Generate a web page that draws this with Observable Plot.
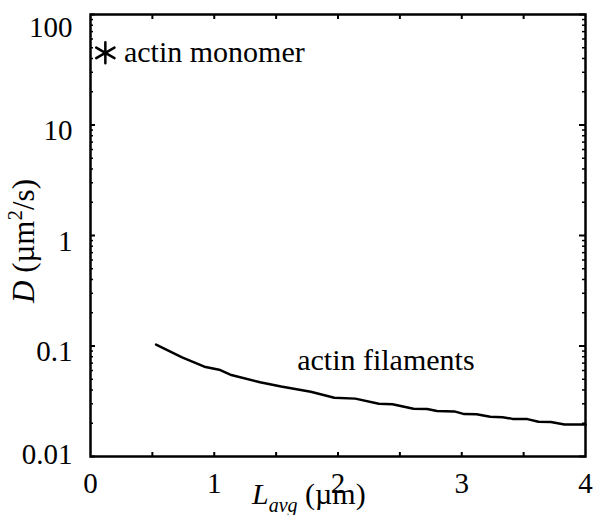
<!DOCTYPE html>
<html><head><meta charset="utf-8">
<script src="https://cdn.jsdelivr.net/npm/d3@7"></script>
<script src="https://cdn.jsdelivr.net/npm/@observablehq/plot@0.6"></script>
<style>body{margin:0;background:#fff} svg{display:block}</style>
</head><body><div id="chart"></div>
<script>
// Actin filaments: average length L (µm) vs diffusion coefficient D (µm²/s)
const filamentL = [0.53, 0.74, 0.92, 1.04, 1.13, 1.37, 1.54, 1.70, 1.78, 1.97, 2.14, 2.33, 2.44, 2.61, 2.72, 2.80, 2.94, 3.02, 3.12, 3.23, 3.33, 3.41, 3.53, 3.62, 3.72, 3.83, 4.00];
const filamentD = [0.103, 0.079, 0.065, 0.061, 0.055, 0.047, 0.043, 0.040, 0.0386, 0.034, 0.0334, 0.030, 0.0297, 0.027, 0.0269, 0.0258, 0.0256, 0.0242, 0.0241, 0.0229, 0.0227, 0.0219, 0.0218, 0.0206, 0.0205, 0.0195, 0.0195];
// Actin monomer
const monomerL = [0.12];
const monomerD = [45];
const labelTexts = ["actin monomer", "actin filaments"];
const labelL = [0.27, 1.67];
const labelD = [45, 0.074];
// Axes
const xTicks = [0, 1, 2, 3, 4];
const xSmallTicks = [0.5, 1, 1.5, 2, 2.5, 3, 3.5];
const yTicks = [0.01, 0.1, 1, 10, 100];
const yTickLabels = ["0.01", "0.1", "1", "10", "100"];
const yMinorTicks = [0.02,0.03,0.04,0.05,0.06,0.07,0.08,0.09,
                     0.2,0.3,0.4,0.5,0.6,0.7,0.8,0.9,
                     2,3,4,5,6,7,8,9,
                     20,30,40,50,60,70,80,90];

// pick an installed Times-like serif font
const ctx = document.createElement("canvas").getContext("2d");
function has(name) {
  const s = "actin monomer 0.01 µm";
  for (const fb of ["monospace", "sans-serif"]) {
    ctx.font = `72px ${fb}`; const w0 = ctx.measureText(s).width;
    ctx.font = `72px "${name}", ${fb}`; const w1 = ctx.measureText(s).width;
    if (Math.abs(w0 - w1) > 0.5) return true;
  }
  return false;
}
const candidates = ["Liberation Serif", "Times New Roman", "Tinos", "Nimbus Roman", "DejaVu Serif", "Noto Serif"];
const chosen = candidates.find(has) || "serif";
const isTimes = ["Liberation Serif", "Times New Roman", "Tinos", "Nimbus Roman"].includes(chosen);
const k = isTimes ? 1 : 0.84;
const font = `"${chosen}", serif`;
const tickFs = Math.round(29 * k), textFs = Math.round(30 * k);

const filaments = filamentL.map((L, i) => ({L, D: filamentD[i]}));
const monomer = monomerL.map((L, i) => ({L, D: monomerD[i]}));
const labels = labelTexts.map((t, i) => ({t, L: labelL[i], D: labelD[i]}));
const yFmt = d => yTickLabels[yTicks.indexOf(d)];

const chart = Plot.plot({
  width: 593, height: 515,
  marginLeft: 90, marginRight: 8, marginTop: 14, marginBottom: 59,
  style: `font-family: ${font}; font-size: ${tickFs}px; background: white; color: black; overflow: visible;`,
  x: {domain: [0, 4]},
  y: {type: "log", domain: [0.01, 100]},
  marks: [
    Plot.axisX(xSmallTicks, {anchor: "bottom", tickSize: -4, text: null, strokeWidth: 2, label: null}),
    Plot.axisX(xSmallTicks, {anchor: "top", tickSize: -4, text: null, strokeWidth: 2, label: null}),
    Plot.axisX(xTicks, {anchor: "bottom", tickSize: 0, tickPadding: 16, fontSize: tickFs, label: null, tickFormat: d => String(d)}),
    Plot.axisY(yTicks, {anchor: "left", tickSize: -5, text: null, strokeWidth: 2, label: null}),
    Plot.axisY(yMinorTicks, {anchor: "left", tickSize: -3, text: null, strokeWidth: 1.5, label: null}),
    Plot.axisY(yTicks, {anchor: "right", tickSize: -7, text: null, strokeWidth: 2, label: null}),
    Plot.axisY(yMinorTicks, {anchor: "right", tickSize: -4, text: null, strokeWidth: 1.5, label: null}),
    Plot.axisY(yTicks.slice(1, 4), {anchor: "left", tickSize: 0, tickPadding: 18, fontSize: tickFs, dy: 6, label: null, tickFormat: yFmt}),
    Plot.axisY(yTicks.slice(4), {anchor: "left", tickSize: 0, tickPadding: 18, fontSize: tickFs, dy: 13, label: null, tickFormat: yFmt}),
    Plot.axisY(yTicks.slice(0, 1), {anchor: "left", tickSize: 0, tickPadding: 18, fontSize: tickFs, dy: -2, label: null, tickFormat: yFmt}),
    Plot.frame({strokeWidth: 2.5, stroke: "black"}),
    Plot.line(filaments, {x: "L", y: "D", stroke: "black", strokeWidth: 2.5}),
    Plot.dot(monomer, {x: "L", y: "D", symbol: "asterisk", r: 10, stroke: "black", strokeWidth: 2.5, strokeLinecap: "round"}),
    Plot.text(labels, {x: "L", y: "D", text: "t", textAnchor: "start", lineAnchor: "middle", fontSize: textFs, fill: "black"})
  ]
});

const svg = d3.select(chart);
svg.selectAll("text").style("font-family", font);
// y-axis label: D (µm²/s)
const yl = svg.append("text")
  .attr("transform", "translate(34,303) rotate(-90)")
  .attr("text-anchor", "start")
  .style("font-family", font)
  .attr("font-size", Math.round(31 * k)).attr("fill", "black");
yl.append("tspan").attr("font-style", "italic").text("D");
yl.append("tspan").text(" (µm");
yl.append("tspan").attr("font-size", Math.round(21 * k)).attr("dy", -12).text("2");
yl.append("tspan").attr("dy", 12).text("/s)");
// x-axis label: L_avg (µm)
const xl = svg.append("text")
  .attr("x", 252).attr("y", 504)
  .attr("text-anchor", "start")
  .style("font-family", font)
  .attr("font-size", textFs).attr("fill", "black");
xl.append("tspan").attr("font-style", "italic").text("L");
xl.append("tspan").attr("font-style", "italic").attr("font-size", Math.round(20 * k)).attr("dy", 8).text("avg");
xl.append("tspan").attr("dy", -8).text(" (µm)");

document.getElementById("chart").appendChild(chart);
</script>
</body></html>
